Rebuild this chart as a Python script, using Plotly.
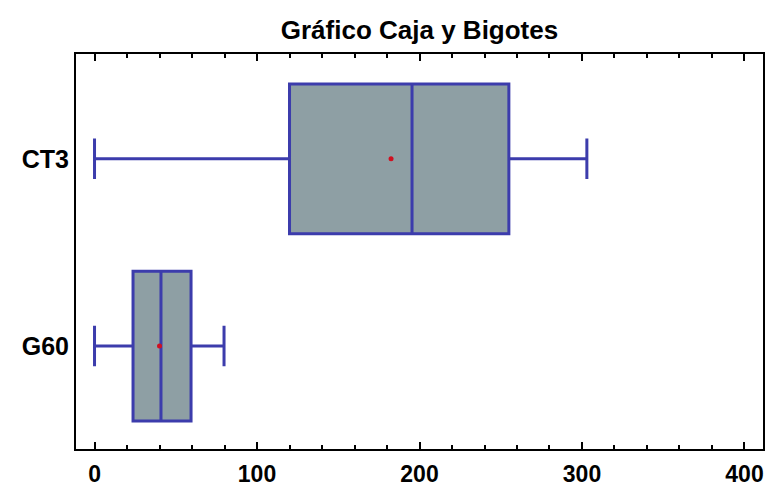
import plotly.graph_objects as go

categories = ["G60", "CT3"]
lower_whisker = [0, 0]
q1_values = [23.7, 120]
median_values = [40.9, 195.4]
q3_values = [59.4, 255]
upper_whisker = [79.7, 303]
mean_values = [40.0, 182.5]

title_text = "Gráfico Caja y Bigotes"
line_color = "#3c3cac"
fill_color = "#8e9fa4"
font_family = "Liberation Sans, Arial, sans-serif"

fig = go.Figure()
fig.add_trace(go.Box(
    y=categories,
    q1=q1_values,
    median=median_values,
    q3=q3_values,
    lowerfence=lower_whisker,
    upperfence=upper_whisker,
    orientation="h",
    width=0.8,
    whiskerwidth=0.27,
    fillcolor=fill_color,
    line=dict(color=line_color, width=3),
    boxpoints=False,
    showlegend=False,
    hoverinfo="skip",
))
fig.add_trace(go.Scatter(
    x=mean_values,
    y=categories,
    mode="markers",
    marker=dict(color="#d01020", size=5, symbol="circle"),
    showlegend=False,
    hoverinfo="skip",
))

fig.update_layout(
    width=775,
    height=487,
    margin=dict(l=76, r=12, t=54, b=38, autoexpand=False),
    paper_bgcolor="white",
    plot_bgcolor="white",
    title=dict(
        text=title_text,
        x=0.5, xref="paper", xanchor="center",
        y=1 - 30 / 487, yref="container", yanchor="middle",
        font=dict(family=font_family, size=26, color="black", weight="bold"),
        automargin=False,
    ),
    font=dict(family=font_family, color="black"),
)
fig.update_xaxes(
    automargin=False,
    range=[-11.4, 411.4],
    tickmode="linear",
    tick0=0,
    dtick=100,
    tickfont=dict(family=font_family, size=23, color="black", weight="bold"),
    ticklabelstandoff=3,
    ticks="inside",
    ticklen=7,
    tickwidth=2,
    tickcolor="black",
    minor=dict(ticks="inside", dtick=20, tick0=0, ticklen=4, tickwidth=1.5, tickcolor="black"),
    showline=True,
    linecolor="black",
    linewidth=2,
    mirror="allticks",
    showgrid=False,
    zeroline=False,
)
fig.update_yaxes(
    automargin=False,
    type="category",
    categoryorder="array",
    categoryarray=categories,
    range=[-0.55, 1.56],
    tickfont=dict(family=font_family, size=25, color="black", weight="bold"),
    ticks="",
    showline=True,
    linecolor="black",
    linewidth=2,
    mirror=True,
    showgrid=False,
    zeroline=False,
)

fig.write_html("out.html")
